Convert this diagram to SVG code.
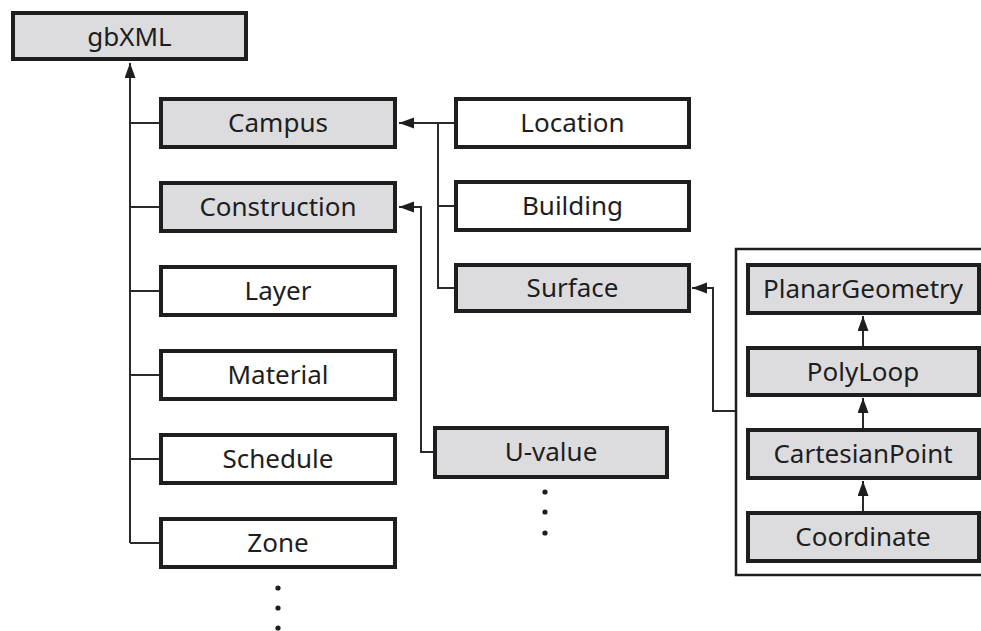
<svg xmlns="http://www.w3.org/2000/svg" width="981" height="631" viewBox="0 0 981 631">
<style>
.box{stroke:#1e1e1e;stroke-width:4}
.g{fill:#dcdcdf}
.w{fill:#ffffff}
text{font-family:"Noto Sans","Open Sans",sans-serif;font-size:26px;fill:#1e1e1e;text-anchor:middle;dominant-baseline:central}
.c{fill:none;stroke:#2a2a2a;stroke-width:2}
.dot{fill:#1e1e1e}
</style>
<defs>
<marker id="ah" markerUnits="userSpaceOnUse" markerWidth="16" markerHeight="12" refX="15" refY="5.5" orient="auto">
<path d="M0,0 L15,5.5 L0,11 z" fill="#1e1e1e"/>
</marker>
</defs>
<rect width="981" height="631" fill="#ffffff"/>
<g id="connectors">
<path class="c" d="M130,543 V63" marker-end="url(#ah)"/>
<path class="c" d="M130,123 H159 M130,207 H159 M130,291 H159 M130,375 H159 M130,459 H159 M130,543 H159"/>
<path class="c" d="M454,123 H399" marker-end="url(#ah)"/>
<path class="c" d="M438,123 V288 H454 M438,206 H454"/>
<path class="c" d="M433,452 H421 V207 H399" marker-end="url(#ah)"/>
<path class="c" d="M735,411 H713 V288 H692" marker-end="url(#ah)"/>
<path class="c" d="M863,346 V316" marker-end="url(#ah)"/>
<path class="c" d="M863,428 V398" marker-end="url(#ah)"/>
<path class="c" d="M863,511 V481" marker-end="url(#ah)"/>
</g>
<g id="gbXML"><rect class="box g" x="13" y="13" width="233" height="46"/><text x="129.5" y="36">gbXML</text></g>
<g id="Campus"><rect class="box g" x="161" y="99" width="234" height="48"/><text x="278" y="122">Campus</text></g>
<g id="Construction"><rect class="box g" x="161" y="183" width="234" height="48"/><text x="278" y="206">Construction</text></g>
<g id="Layer"><rect class="box w" x="161" y="267" width="234" height="48"/><text x="278" y="290">Layer</text></g>
<g id="Material"><rect class="box w" x="161" y="351" width="234" height="48"/><text x="278" y="374">Material</text></g>
<g id="Schedule"><rect class="box w" x="161" y="435" width="234" height="48"/><text x="278" y="458">Schedule</text></g>
<g id="Zone"><rect class="box w" x="161" y="519" width="234" height="48"/><text x="278" y="542">Zone</text></g>
<g id="zone-more"><circle class="dot" cx="278" cy="588" r="2.6"/><circle class="dot" cx="278" cy="608" r="2.6"/><circle class="dot" cx="278" cy="628" r="2.6"/></g>
<g id="Location"><rect class="box w" x="456" y="99" width="233" height="48"/><text x="572.5" y="122">Location</text></g>
<g id="Building"><rect class="box w" x="456" y="182" width="233" height="48"/><text x="572.5" y="205">Building</text></g>
<g id="Surface"><rect class="box g" x="456" y="265" width="233" height="46"/><text x="572.5" y="287">Surface</text></g>
<g id="U-value"><rect class="box g" x="435" y="428" width="232" height="49"/><text x="551" y="451">U-value</text></g>
<g id="uvalue-more"><circle class="dot" cx="545" cy="492" r="2.6"/><circle class="dot" cx="545" cy="512" r="2.6"/><circle class="dot" cx="545" cy="533" r="2.6"/></g>
<g id="Geometry-container"><rect x="736" y="249" width="270" height="326" fill="none" stroke="#1e1e1e" stroke-width="2.5"/></g>
<g id="PlanarGeometry"><rect class="box g" x="748" y="265" width="231" height="48"/><text x="863" y="288">PlanarGeometry</text></g>
<g id="PolyLoop"><rect class="box g" x="748" y="348" width="231" height="47"/><text x="863" y="371">PolyLoop</text></g>
<g id="CartesianPoint"><rect class="box g" x="748" y="430" width="231" height="48"/><text x="863" y="453">CartesianPoint</text></g>
<g id="Coordinate"><rect class="box g" x="748" y="513" width="231" height="48"/><text x="863" y="536">Coordinate</text></g>
</svg>
